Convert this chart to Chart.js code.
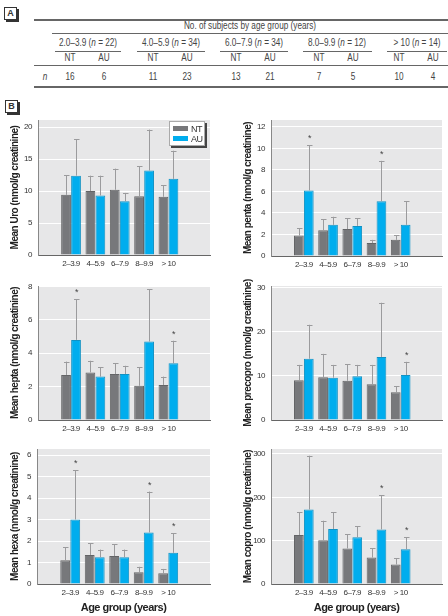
<!DOCTYPE html>
<html>
<head>
<meta charset="utf-8">
<script src="https://cdn.jsdelivr.net/npm/chart.js@4.4.1/dist/chart.umd.min.js"></script>
<style>
  body { margin: 0; background: #fff; }
  #page { position: relative; width: 448px; height: 616px; overflow: hidden;
    font-family: "Liberation Sans", Arial, sans-serif; color: #333; }
  canvas { position: absolute; }
  .tag { position: absolute; width: 11px; height: 11px; border: 1px solid #333; box-shadow: 2px 2px 0 #333;
    font-size: 9px; font-weight: bold; text-align: center; line-height: 11px; background: #fff; }
  .rule { position: absolute; background: #666; height: 1px; }
  .t { position: absolute; font-size: 10px; transform: translateX(-50%) scaleX(0.82); white-space: nowrap; color: #444; }
  #legend { position: absolute; left: 169px; top: 121px; width: 34px; height: 23px; background: #fff;
    border: 1px solid #aaa; box-shadow: 2px 2px 0 #444; font-size: 9px; letter-spacing: -0.4px; }
  #legend div { position: absolute; left: 3px; height: 10px; line-height: 10px; }
  #legend span { display: inline-block; width: 15px; height: 5px; margin-right: 3px; vertical-align: 1px; }
</style>
</head>
<body>
<div id="page">
  <div class="tag" style="left:4px;top:7px">A</div>
  <div class="tag" style="left:5px;top:100px">B</div>
  <div id="table"></div>
  <canvas id="c1" width="224" height="180" style="left:0;top:100px"></canvas>
  <canvas id="c2" width="224" height="180" style="left:224px;top:100px"></canvas>
  <canvas id="c3" width="224" height="175" style="left:0;top:270px"></canvas>
  <canvas id="c4" width="224" height="175" style="left:224px;top:270px"></canvas>
  <canvas id="c5" width="224" height="181" style="left:0;top:435px"></canvas>
  <canvas id="c6" width="224" height="181" style="left:224px;top:435px"></canvas>
  <div id="legend">
    <div style="top:2px"><span style="background:#77787b"></span>NT</div>
    <div style="top:12px"><span style="background:#00adee"></span>AU</div>
  </div>
</div>
<script>
// table A
const groupLabels = ['2.0–3.9', '4.0–5.9', '6.0–7.9', '8.0–9.9', '> 10'];
const groupN = [22, 34, 34, 12, 14];
const nNT = [16, 11, 13, 7, 10];
const nAU = [6, 23, 21, 5, 4];

// panel B
const ageLabels = ['2–3.9', '4–5.9', '6–7.9', '8–9.9', '> 10'];

const uroNT = [9.4, 10.0, 10.2, 9.2, 9.1];
const uroAU = [12.4, 9.3, 8.4, 13.2, 11.9];
const uroNTerr = [12.5, 12.4, 13.5, 13.9, 10.9];
const uroAUerr = [18.1, 12.4, 9.7, 19.6, 16.3];
const uroStar = [0, 0, 0, 0, 0];

const pentaNT = [1.9, 2.4, 2.5, 1.2, 1.5];
const pentaAU = [6.1, 2.9, 2.8, 5.1, 2.9];
const pentaNTerr = [2.6, 3.4, 3.5, 1.5, 1.95];
const pentaAUerr = [10.3, 3.65, 3.5, 8.85, 5.1];
const pentaStar = [1, 0, 0, 1, 0];

const heptaNT = [2.7, 2.85, 2.75, 2.05, 2.1];
const heptaAU = [4.8, 2.6, 2.75, 4.7, 3.4];
const heptaNTerr = [3.5, 3.55, 3.4, 3.15, 2.6];
const heptaAUerr = [7.25, 3.15, 3.25, 7.85, 4.75];
const heptaStar = [1, 0, 0, 0, 1];

const precoproNT = [9.0, 9.7, 8.9, 8.1, 6.3];
const precoproAU = [13.9, 9.6, 9.9, 14.3, 10.2];
const precoproNTerr = [12.5, 15.0, 12.7, 12.5, 7.7];
const precoproAUerr = [21.6, 12.5, 12.5, 26.6, 13.2];
const precoproStar = [0, 0, 0, 0, 1];

const hexaNT = [1.1, 1.35, 1.3, 0.55, 0.5];
const hexaAU = [3.0, 1.25, 1.25, 2.4, 1.45];
const hexaNTerr = [1.7, 1.9, 1.85, 0.8, 0.7];
const hexaAUerr = [5.3, 1.6, 1.6, 4.3, 2.35];
const hexaStar = [1, 0, 0, 1, 1];

const coproNT = [113, 101, 82, 61, 45];
const coproAU = [172, 127, 108, 126, 80];
const coproNTerr = [165, 146, 115, 82, 59];
const coproAUerr = [296, 165, 133, 205, 108];
const coproStar = [0, 0, 0, 1, 1];

// build table
const tb = document.getElementById('table');
function addText(txt, x, y) {
  const d = document.createElement('div');
  d.className = 't';
  d.style.left = x + 'px';
  d.style.top = y + 'px';
  d.innerHTML = txt;
  tb.appendChild(d);
}
function addRule(x1, x2, y, h) {
  const d = document.createElement('div');
  d.className = 'rule';
  d.style.left = x1 + 'px';
  d.style.width = (x2 - x1) + 'px';
  d.style.top = y + 'px';
  d.style.height = (h || 1) + 'px';
  tb.appendChild(d);
}
addRule(34, 448, 19, 2);
addText('No. of subjects by age group (years)', 250, 20);
addRule(52, 448, 33);
const gx = [88, 171, 254, 337, 417];
const gw = [66, 68, 68, 69, 60];
groupLabels.forEach((g, i) => {
  addText(g + ' (<i>n</i> = ' + groupN[i] + ')', gx[i], 37);
  addRule(gx[i] - gw[i] / 2, gx[i] + gw[i] / 2, 51);
  addText('NT', gx[i] - 18, 52);
  addText('AU', gx[i] + 16, 52);
  addText(String(nNT[i]), gx[i] - 18, 71);
  addText(String(nAU[i]), gx[i] + 16, 71);
});
addText('<i>n</i>', 45, 71);
addRule(34, 448, 65);
addRule(34, 448, 86, 2);

// charts
Chart.defaults.font.family = '"Liberation Sans", Arial, sans-serif';
Chart.defaults.color = '#333';

// squeeze the text a bit, the original uses a condensed face
const narrowText = {
  id: 'narrowText',
  beforeUpdate(chart) { chart.ctx.letterSpacing = '-0.5px'; },
  beforeDraw(chart) { chart.ctx.letterSpacing = '-0.5px'; }
};

const bgPlugin = {
  id: 'plotBg',
  beforeDraw(chart) {
    const a = chart.chartArea, ctx = chart.ctx;
    ctx.save();
    ctx.fillStyle = '#e7e7e8';
    ctx.fillRect(a.left, a.top, a.right - a.left, a.bottom - a.top);
    ctx.restore();
  }
};

const errPlugin = {
  id: 'errBars',
  afterDatasetsDraw(chart) {
    const ctx = chart.ctx, y = chart.scales.y;
    ctx.save();
    ctx.strokeStyle = '#9b9b9d';
    ctx.lineWidth = 1;
    chart.data.datasets.forEach((ds, di) => {
      const meta = chart.getDatasetMeta(di);
      meta.data.forEach((bar, i) => {
        const x = Math.round(bar.x) + 0.5;
        const top = y.getPixelForValue(ds.err[i]);
        ctx.beginPath();
        ctx.moveTo(x, bar.y);
        ctx.lineTo(x, top);
        ctx.moveTo(x - 2.5, Math.round(top) + 0.5);
        ctx.lineTo(x + 3, Math.round(top) + 0.5);
        ctx.stroke();
        if (ds.star && ds.star[i]) {
          ctx.fillStyle = '#444';
          ctx.font = '9px "Liberation Sans", Arial, sans-serif';
          ctx.textAlign = 'center';
          ctx.fillText('*', x, top - 4);
        }
      });
    });
    ctx.restore();
  }
};

function makeChart(id, o) {
  const pts = (arr) => arr.map((v, i) => ({ x: i + 1, y: v }));
  return new Chart(document.getElementById(id), {
    type: 'bar',
    data: {
      datasets: [
        { label: 'NT', data: pts(o.nt), err: o.ntErr, backgroundColor: '#77787b', borderColor: '#636466',
          borderWidth: 1, categoryPercentage: 0.82, barPercentage: 0.98 },
        { label: 'AU', data: pts(o.au), err: o.auErr, star: o.star, backgroundColor: '#00adee', borderColor: '#1192c4',
          borderWidth: 1, categoryPercentage: 0.82, barPercentage: 0.98 }
      ]
    },
    options: {
      responsive: false,
      animation: false,
      layout: { padding: { top: o.padTop, right: o.padRight, left: 0, bottom: 0 } },
      plugins: { legend: { display: false }, tooltip: { enabled: false } },
      scales: {
        x: {
          type: 'linear',
          min: 0.35,
          max: 6,
          afterBuildTicks: (s) => { s.ticks = ageLabels.map((_, i) => ({ value: i + 1 })); },
          afterFit: (s) => { s.height = o.xH; },
          grid: { display: false, drawTicks: false },
          border: { color: '#666', width: 1 },
          ticks: { font: { size: 8 }, color: '#333', padding: 4, maxRotation: 0,
            callback: (v) => ageLabels[v - 1] },
          title: { display: !!o.xTitle, text: o.xTitle, font: { size: 11, weight: 'bold' }, color: '#222', padding: { top: 2, bottom: 1 } }
        },
        y: {
          min: 0,
          max: o.max,
          afterBuildTicks: (s) => {
            const t = [];
            for (let v = 0; v <= o.max + 1e-9; v += o.step) t.push({ value: v });
            s.ticks = t;
          },
          afterFit: (s) => { s.width = o.yW; },
          grid: { color: '#ffffff', lineWidth: 1, drawTicks: false },
          border: { color: '#888', width: 1 },
          ticks: { font: { size: 8 }, color: '#333', padding: 6 },
          title: { display: true, text: o.yTitle, font: { size: 10, weight: 'bold' }, color: '#222', padding: { top: o.titlePad, bottom: 0 } }
        }
      }
    },
    plugins: [narrowText, bgPlugin, errPlugin]
  });
}

makeChart('c1', { nt: uroNT, au: uroAU, ntErr: uroNTerr, auErr: uroAUerr, star: uroStar,
  max: 21.1, step: 5, yTitle: 'Mean Uro (nmol/g creatinine)', padTop: 20, padRight: 14, yW: 38, xH: 25, titlePad: 9 });
makeChart('c2', { nt: pentaNT, au: pentaAU, ntErr: pentaNTerr, auErr: pentaAUerr, star: pentaStar,
  max: 12.65, step: 2, yTitle: 'Mean penta (nmol/g creatinine)', padTop: 20, padRight: 6, yW: 47, xH: 24, titlePad: 18 });
makeChart('c3', { nt: heptaNT, au: heptaAU, ntErr: heptaNTerr, auErr: heptaAUerr, star: heptaStar,
  max: 8.03, step: 2, yTitle: 'Mean hepta (nmol/g creatinine)', padTop: 16, padRight: 14, yW: 38, xH: 25, titlePad: 9 });
makeChart('c4', { nt: precoproNT, au: precoproAU, ntErr: precoproNTerr, auErr: precoproAUerr, star: precoproStar,
  max: 30.4, step: 10, yTitle: 'Mean precopro (nmol/g creatinine)', padTop: 16, padRight: 6, yW: 47, xH: 25, titlePad: 18 });
makeChart('c5', { nt: hexaNT, au: hexaAU, ntErr: hexaNTerr, auErr: hexaAUerr, star: hexaStar,
  max: 6.28, step: 1, yTitle: 'Mean hexa (nmol/g creatinine)', padTop: 14, padRight: 14, yW: 37, xH: 32, titlePad: 9,
  xTitle: 'Age group (years)' });
makeChart('c6', { nt: coproNT, au: coproAU, ntErr: coproNTerr, auErr: coproAUerr, star: coproStar,
  max: 311.5, step: 100, yTitle: 'Mean copro (nmol/g creatinine)', padTop: 14, padRight: 6, yW: 47, xH: 32, titlePad: 18,
  xTitle: 'Age group (years)' });
</script>
</body>
</html>
